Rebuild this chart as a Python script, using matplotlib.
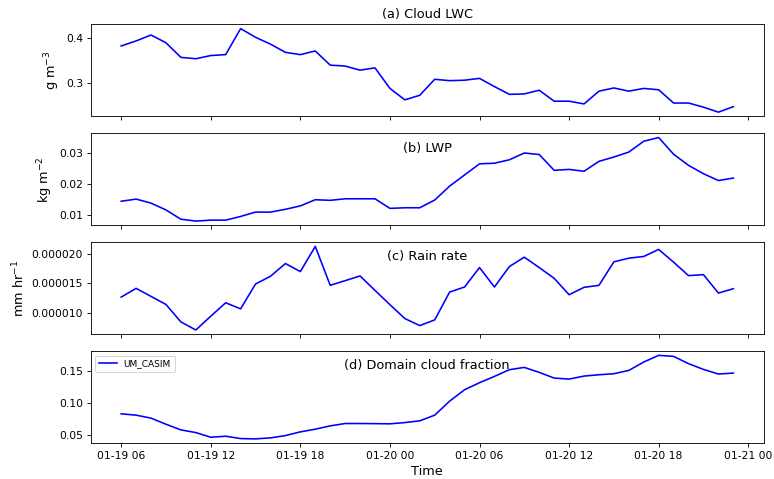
import numpy as np
import pandas as pd
import matplotlib
matplotlib.use("Agg")
import matplotlib.pyplot as plt
import matplotlib.dates as mdates
from matplotlib.ticker import FormatStrFormatter

# hourly output, 01-19 06 to 01-20 23
times = pd.date_range("2015-01-19 06:00", "2015-01-20 23:00", freq="h")

cloud_lwc = [0.382, 0.393, 0.406, 0.389, 0.357, 0.354, 0.361, 0.363, 0.420, 0.401,
             0.386, 0.368, 0.363, 0.371, 0.340, 0.338, 0.329, 0.334, 0.289, 0.264,
             0.274, 0.309, 0.306, 0.307, 0.311, 0.293, 0.276, 0.277, 0.285, 0.261,
             0.261, 0.255, 0.283, 0.290, 0.283, 0.289, 0.286, 0.257, 0.257, 0.248,
             0.237, 0.249]

lwp = [0.0144, 0.0151, 0.0138, 0.0116, 0.0086, 0.0080, 0.0083, 0.0083, 0.0095, 0.0109,
       0.0109, 0.0118, 0.0129, 0.0149, 0.0147, 0.0152, 0.0152, 0.0152, 0.0121, 0.0123,
       0.0123, 0.0148, 0.0193, 0.0229, 0.0265, 0.0267, 0.0278, 0.0300, 0.0295, 0.0244,
       0.0247, 0.0241, 0.0273, 0.0287, 0.0303, 0.0338, 0.0350, 0.0296, 0.0260, 0.0233,
       0.0211, 0.0219]

rain_rate = [1.264e-5, 1.414e-5, 1.276e-5, 1.138e-5, 8.39e-6, 7.01e-6, 9.37e-6, 1.167e-5,
             1.063e-5, 1.489e-5, 1.621e-5, 1.839e-5, 1.701e-5, 2.132e-5, 1.466e-5, 1.546e-5,
             1.626e-5, 1.379e-5, 1.135e-5, 8.97e-6, 7.76e-6, 8.74e-6, 1.351e-5, 1.437e-5,
             1.770e-5, 1.437e-5, 1.787e-5, 1.948e-5, 1.770e-5, 1.586e-5, 1.305e-5, 1.431e-5,
             1.466e-5, 1.868e-5, 1.931e-5, 1.960e-5, 2.081e-5, 1.862e-5, 1.632e-5, 1.649e-5,
             1.333e-5, 1.408e-5]

cloud_frac = [0.0825, 0.0804, 0.0757, 0.0662, 0.0573, 0.0531, 0.0458, 0.0474, 0.0437, 0.0432,
              0.0448, 0.0484, 0.0542, 0.0584, 0.0636, 0.0673, 0.0673, 0.0671, 0.0668, 0.0688,
              0.0715, 0.0804, 0.1024, 0.1202, 0.1312, 0.1411, 0.1516, 0.1552, 0.1474, 0.1385,
              0.1369, 0.1416, 0.1437, 0.1453, 0.1505, 0.1636, 0.1741, 0.1725, 0.1610, 0.1521,
              0.1448, 0.1463]

titles = ["(a) Cloud LWC", "(b) LWP", "(c) Rain rate", "(d) Domain cloud fraction"]
ylabels = ["g m$^{-3}$", "kg m$^{-2}$", "mm hr$^{-1}$", ""]
series = [cloud_lwc, lwp, rain_rate, cloud_frac]

dpi = 77.4
fig, axes = plt.subplots(4, 1, sharex=True, figsize=(774 / dpi, 479 / dpi))
plt.subplots_adjust(left=0.117, right=0.987, top=0.949, bottom=0.075, hspace=0.185)

for i, ax in enumerate(axes):
    ax.plot(times, series[i], color="b", lw=1.5, label="UM_CASIM")
    if i == 0:
        ax.set_title(titles[i], fontsize=12)
    else:
        ax.text(0.5, 0.84, titles[i], transform=ax.transAxes,
                ha="center", va="center", fontsize=12)
    if ylabels[i]:
        ax.set_ylabel(ylabels[i], fontsize=12)

axes[2].yaxis.set_major_formatter(FormatStrFormatter("%.6f"))
axes[3].legend(loc="upper left", fontsize="small")

axes[3].xaxis.set_major_locator(mdates.HourLocator(byhour=[0, 6, 12, 18]))
axes[3].xaxis.set_major_formatter(mdates.DateFormatter("%m-%d %H"))
axes[3].set_xlabel("Time", fontsize=12)

fig.savefig("out.png", dpi=dpi)
